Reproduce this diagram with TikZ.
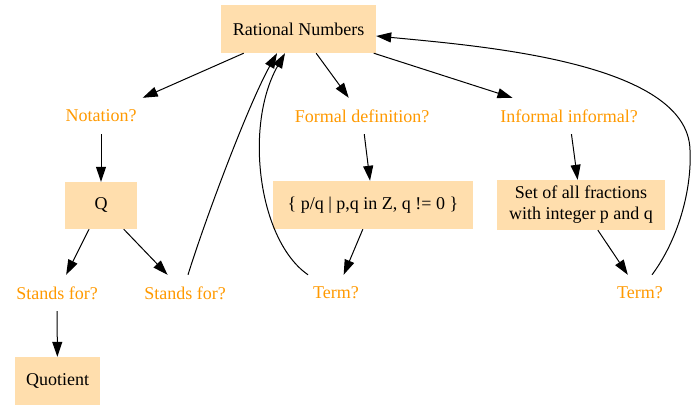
\documentclass[tikz,border=0pt]{standalone}
\usepackage{fontspec}
\setmainfont{Liberation Serif}
\usetikzlibrary{arrows.meta}
\definecolor{boxfill}{RGB}{255,222,173}
\definecolor{qcol}{RGB}{255,153,0}
\tikzset{
  box/.style={rectangle, fill=boxfill, draw=none, minimum height=47pt, inner sep=2pt, font=\fontsize{18}{20}\selectfont, text=black},
  qtext/.style={rectangle, draw=none, minimum height=36pt, inner xsep=6pt, inner ysep=0pt, font=\fontsize{18}{20}\selectfont, text=qcol},
  conn/.style={draw=black, line width=1pt, -{Triangle[length=15pt,width=10pt]}}
}
\begin{document}
\begin{tikzpicture}[x=1pt,y=-1pt]
\useasboundingbox (0,0) rectangle (696,411);
\node[box, minimum width=155pt, minimum height=48pt] (rn) at (298.5,29) {Rational Numbers};
\node[qtext] (not) at (101,116) {Notation?};
\node[qtext] (fd) at (362,116) {Formal definition?};
\node[qtext] (ii) at (569,116) {Informal informal?};
\node[box, minimum width=72pt] (q) at (101,205.5) {Q};
\node[box, minimum width=200pt, minimum height=48pt] (def) at (373,205) {\{ p/q | p,q in Z, q != 0 \}};
\node[box, minimum width=168pt, minimum height=50pt, align=center, font=\fontsize{18}{21}\selectfont] (set) at (581,205) {Set of all fractions\\with integer p and q};
\node[qtext] (sl) at (57,293) {Stands for?};
\node[qtext] (sr) at (185,293) {Stands for?};
\node[qtext] (tm) at (336,293) {Term?};
\node[qtext] (tr) at (640,293) {Term?};
\node[box, minimum width=85pt, minimum height=48pt] (quo) at (57.5,381) {Quotient};
\draw[conn] (rn) -- (not.north east);
\draw[conn] (rn) -- (fd);
\draw[conn] (rn) -- (ii);
\draw[conn] (not) -- (q);
\draw[conn] (q) -- (sl);
\draw[conn] (q) -- (sr);
\draw[conn] (sl) -- (quo);
\draw[conn] (fd) -- (def);
\draw[conn] (def) -- (tm);
\draw[conn] (ii) -- (set);
\draw[conn] (set) -- (tr);
\draw[conn] (sr.north) ++(3,0) coordinate (sr1) .. controls (205,220) and (248,105) .. (rn.south -| 277,0);
\draw[conn] (tm.north) ++(-28,0) coordinate (tm1) .. controls (258,240) and (244,125) .. (rn.south -| 285,0);
\draw[conn] (tr.north) ++(12,0) coordinate (tr1) .. controls (678,240) and (692,190) .. (690,150) .. controls (688,62) and (480,46) .. (rn.east |- 0,36);
\end{tikzpicture}
\end{document}
